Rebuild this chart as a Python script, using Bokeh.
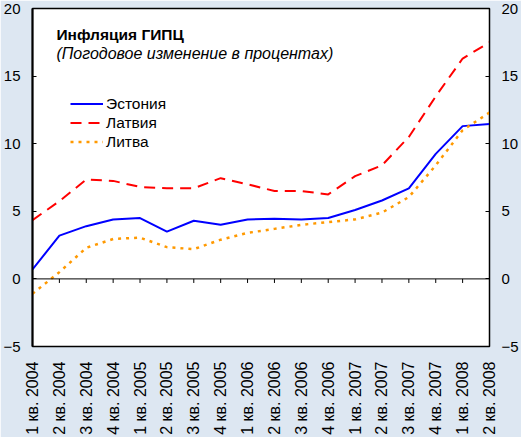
import math
from bokeh.plotting import figure
from bokeh.models import (Range1d, LinearAxis, FixedTicker,
                          Span, Label, Legend, LegendItem, ColumnDataSource)
from bokeh.embed import file_html
from bokeh.resources import INLINE

quarters = ["1 кв. 2004", "2 кв. 2004", "3 кв. 2004", "4 кв. 2004",
            "1 кв. 2005", "2 кв. 2005", "3 кв. 2005", "4 кв. 2005",
            "1 кв. 2006", "2 кв. 2006", "3 кв. 2006", "4 кв. 2006",
            "1 кв. 2007", "2 кв. 2007", "3 кв. 2007", "4 кв. 2007",
            "1 кв. 2008", "2 кв. 2008"]
estonia = [0.7, 3.2, 3.9, 4.4, 4.5, 3.5, 4.3, 4.0, 4.4, 4.45, 4.4, 4.5,
           5.1, 5.8, 6.7, 9.25, 11.3, 11.45]
latvia = [4.35, 5.75, 7.35, 7.25, 6.8, 6.7, 6.7, 7.45, 7.0, 6.5, 6.5, 6.25,
          7.6, 8.4, 10.5, 13.5, 16.3, 17.5]
lithuania = [-1.1, 0.5, 2.3, 2.95, 3.05, 2.35, 2.2, 2.9, 3.4, 3.7, 4.0, 4.2,
             4.4, 4.9, 6.05, 8.4, 11.0, 12.3]
y_ticks = [-5, 0, 5, 10, 15, 20]

BG = "#dde7f2"
FONT = "Liberation Sans"
idx = list(range(len(quarters)))

p = figure(width=521, height=437, output_backend="svg", toolbar_location=None,
           x_range=Range1d(0, len(quarters) - 1), y_range=Range1d(-5, 20),
           min_border_left=30, min_border_right=32, min_border_top=8,
           min_border_bottom=89, border_fill_color=BG,
           background_fill_color="white", outline_line_color="black",
           outline_line_width=1.5)
p.xgrid.visible = False
p.ygrid.visible = False

# bottom axis: labels only
xa = p.xaxis[0]
xa.ticker = FixedTicker(ticks=idx)
xa.major_label_overrides = {i: q for i, q in zip(idx, quarters)}
xa.major_label_orientation = math.pi / 2
xa.axis_line_color = None
xa.major_tick_line_color = None
xa.minor_tick_line_color = None
xa.major_label_standoff = 9
xa.major_label_text_font = FONT
xa.major_label_text_font_size = "16px"
xa.major_label_text_color = "black"

def style_y(ax):
    ax.ticker = FixedTicker(ticks=y_ticks)
    ax.axis_line_color = "black"
    ax.major_tick_in = 4
    ax.major_tick_out = 0
    ax.major_tick_line_color = "black"
    ax.minor_tick_line_color = None
    ax.major_label_standoff = 12
    ax.major_label_text_font = FONT
    ax.major_label_text_font_size = "15px"
    ax.major_label_text_color = "black"

ya = p.yaxis[0]
style_y(ya)
ya.axis_line_width = 2
yr = LinearAxis()
style_y(yr)
p.add_layout(yr, "right")

# zero line with category ticks
p.add_layout(Span(location=0, dimension="width", line_color="black", line_width=1))
p.segment(x0=idx, y0=[0] * len(idx), x1=idx, y1=[-0.3] * len(idx),
          line_color="black", line_width=1)

src = ColumnDataSource(dict(x=idx, ee=estonia, lv=latvia, lt=lithuania))
r1 = p.line("x", "ee", source=src, line_color="#0000ff", line_width=2)
r2 = p.line("x", "lv", source=src, line_color="#ff0000", line_width=2,
            line_dash="11 7")
r3 = p.line("x", "lt", source=src, line_color="#ff9900", line_width=2.5,
            line_dash="3 5")

legend = Legend(items=[LegendItem(label="Эстония", renderers=[r1]),
                       LegendItem(label="Латвия", renderers=[r2]),
                       LegendItem(label="Литва", renderers=[r3])],
                location=(38, 195), padding=0, margin=0, spacing=0,
                glyph_width=33, glyph_height=19, label_height=19,
                label_standoff=3, border_line_color=None,
                background_fill_alpha=0, label_text_font=FONT,
                label_text_font_size="15.5px", label_text_color="black")
p.add_layout(legend)

p.add_layout(Label(x=0.89, y=18.1, text="Инфляция ГИПЦ", text_font=FONT,
                   text_font_size="15.5px", text_font_style="bold",
                   text_color="black", text_baseline="alphabetic"))
p.add_layout(Label(x=0.89, y=16.7, text="(Погодовое изменение в процентах)",
                   text_font=FONT, text_font_size="16px",
                   text_font_style="italic", text_color="black",
                   text_baseline="alphabetic"))

open("out.html", "w").write(file_html(p, INLINE))
